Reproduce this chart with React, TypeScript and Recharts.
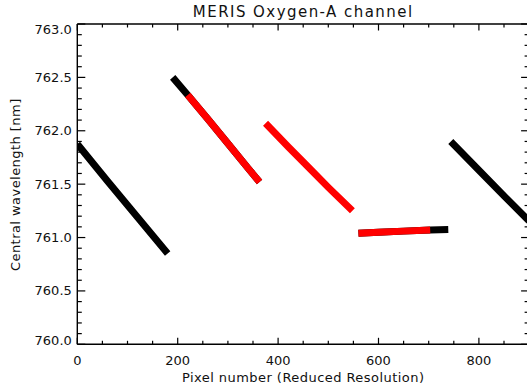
import { LineChart, Line, XAxis, YAxis } from 'recharts';

const FONT = '"DejaVu Sans", sans-serif';

// readings per camera segment: pixel number -> central wavelength (nm)
const cam1X = [0, 60, 120, 180];
const cam1Y = [761.876, 761.53, 761.19, 760.85];

const cam2X = [190, 220, 260, 300, 340, 363];
const cam2Y = [762.5, 762.335, 762.11, 761.88, 761.65, 761.52];

const cam2RedX = [220, 260, 300, 340, 363];
const cam2RedY = [762.335, 762.11, 761.88, 761.65, 761.52];

const cam3RedX = [375, 420, 460, 500, 548];
const cam3RedY = [762.07, 761.85, 761.66, 761.47, 761.25];

const cam4X = [560, 600, 650, 703, 739];
const cam4Y = [761.04, 761.05, 761.06, 761.07, 761.075];

const cam4RedX = [560, 600, 650, 703];
const cam4RedY = [761.04, 761.05, 761.06, 761.07];

const cam5X = [744, 800, 850, 900];
const cam5Y = [761.9, 761.63, 761.39, 761.155];

const xTicks = [0, 50, 100, 150, 200, 250, 300, 350, 400, 450, 500, 550, 600, 650, 700, 750, 800, 850, 900];
const xLabels = [0, 200, 400, 600, 800];
const yTicks = [
  760.0, 760.1, 760.2, 760.3, 760.4, 760.5, 760.6, 760.7, 760.8, 760.9,
  761.0, 761.1, 761.2, 761.3, 761.4, 761.5, 761.6, 761.7, 761.8, 761.9,
  762.0, 762.1, 762.2, 762.3, 762.4, 762.5, 762.6, 762.7, 762.8, 762.9, 763.0,
];
const yLabels = [760.0, 760.5, 761.0, 761.5, 762.0, 762.5, 763.0];

const zip = (xs: number[], ys: number[]) => xs.map((x, i) => ({ x, y: ys[i] }));

const blackSegs = [zip(cam1X, cam1Y), zip(cam2X, cam2Y), zip(cam4X, cam4Y), zip(cam5X, cam5Y)];
const redSegs = [zip(cam2RedX, cam2RedY), zip(cam3RedX, cam3RedY), zip(cam4RedX, cam4RedY)];

const isMajorY = (v: number) => yLabels.some((l) => Math.abs(l - v) < 1e-6);

const BottomTick = (p: any) => {
  const v = p.payload.value;
  const major = xLabels.includes(v);
  return (
    <g>
      <line x1={p.x} x2={p.x} y1={p.y} y2={p.y - (major ? 6.5 : 3.5)} stroke="#000" strokeWidth={1.2} />
      {major && (
        <text x={p.x} y={p.y + 16.5} dy="0.35em" textAnchor="middle" fontFamily={FONT} fontSize={13} fill="#111">
          {v}
        </text>
      )}
    </g>
  );
};

const TopTick = (p: any) => {
  const major = xLabels.includes(p.payload.value);
  return <line x1={p.x} x2={p.x} y1={p.y} y2={p.y + (major ? 6.5 : 3.5)} stroke="#000" strokeWidth={1.2} />;
};

const LeftTick = (p: any) => {
  const v = p.payload.value;
  const major = isMajorY(v);
  // the end labels sit inside the frame
  let shift = 0;
  if (Math.abs(v - 763) < 1e-6) shift = 5.5;
  if (Math.abs(v - 760) < 1e-6) shift = -4;
  return (
    <g>
      <line x1={p.x} x2={p.x + (major ? 8 : 4.5)} y1={p.y} y2={p.y} stroke="#000" strokeWidth={1.2} />
      {major && (
        <text x={p.x - 5.5} y={p.y + shift} dy="0.35em" textAnchor="end" fontFamily={FONT} fontSize={13} fill="#111">
          {v.toFixed(1)}
        </text>
      )}
    </g>
  );
};

const RightTick = (p: any) => {
  const major = isMajorY(p.payload.value);
  return <line x1={p.x} x2={p.x - (major ? 8 : 4.5)} y1={p.y} y2={p.y} stroke="#000" strokeWidth={1.2} />;
};

const axisLine = { stroke: '#000', strokeWidth: 1.4 };

export default function App() {
  return (
    <div style={{ position: 'absolute', left: 0, top: 0, width: 527, height: 391, overflow: 'hidden', background: '#fff' }}>
      <LineChart width={532} height={391} margin={{ top: 23, right: 1.9, bottom: 45.7, left: 76.3 }}>
        <XAxis
          type="number"
          dataKey="x"
          domain={[0, 900]}
          allowDataOverflow
          ticks={xTicks}
          interval={0}
          height={1}
          tickSize={0}
          tickMargin={0}
          tick={BottomTick}
          axisLine={axisLine}
          tickLine={false}
        />
        <XAxis
          xAxisId="top"
          orientation="top"
          type="number"
          dataKey="x"
          domain={[0, 900]}
          allowDataOverflow
          ticks={xTicks}
          interval={0}
          height={1}
          tickSize={0}
          tickMargin={0}
          tick={TopTick}
          axisLine={axisLine}
          tickLine={false}
        />
        <YAxis
          type="number"
          domain={[760, 763]}
          allowDataOverflow
          ticks={yTicks}
          interval={0}
          width={1}
          tickSize={0}
          tickMargin={0}
          tick={LeftTick}
          axisLine={axisLine}
          tickLine={false}
        />
        <YAxis
          yAxisId="right"
          orientation="right"
          type="number"
          domain={[760, 763]}
          allowDataOverflow
          ticks={yTicks}
          interval={0}
          width={1}
          tickSize={0}
          tickMargin={0}
          tick={RightTick}
          axisLine={axisLine}
          tickLine={false}
        />
        {blackSegs.map((seg, i) => (
          <Line
            key={`b${i}`}
            data={seg}
            dataKey="y"
            stroke="#000"
            strokeWidth={7}
            dot={false}
            activeDot={false}
            isAnimationActive={false}
          />
        ))}
        {redSegs.map((seg, i) => (
          <Line
            key={`r${i}`}
            data={seg}
            dataKey="y"
            stroke="#ff0000"
            strokeWidth={7}
            dot={false}
            activeDot={false}
            isAnimationActive={false}
          />
        ))}
      </LineChart>
      <svg width={527} height={391} style={{ position: 'absolute', left: 0, top: 0, pointerEvents: 'none' }}>
        <text x={303.2} y={16.7} textAnchor="middle" fontFamily={FONT} fontSize={15} letterSpacing={1.45} fill="#111">
          MERIS Oxygen-A channel
        </text>
        <text x={303.2} y={381.5} textAnchor="middle" fontFamily={FONT} fontSize={13} letterSpacing={0.45} fill="#111">
          Pixel number (Reduced Resolution)
        </text>
        <text
          x={0}
          y={0}
          transform="translate(20,184.7) rotate(-90)"
          textAnchor="middle"
          fontFamily={FONT}
          fontSize={13}
          letterSpacing={0.45}
          fill="#111"
        >
          Central wavelength [nm]
        </text>
      </svg>
    </div>
  );
}
